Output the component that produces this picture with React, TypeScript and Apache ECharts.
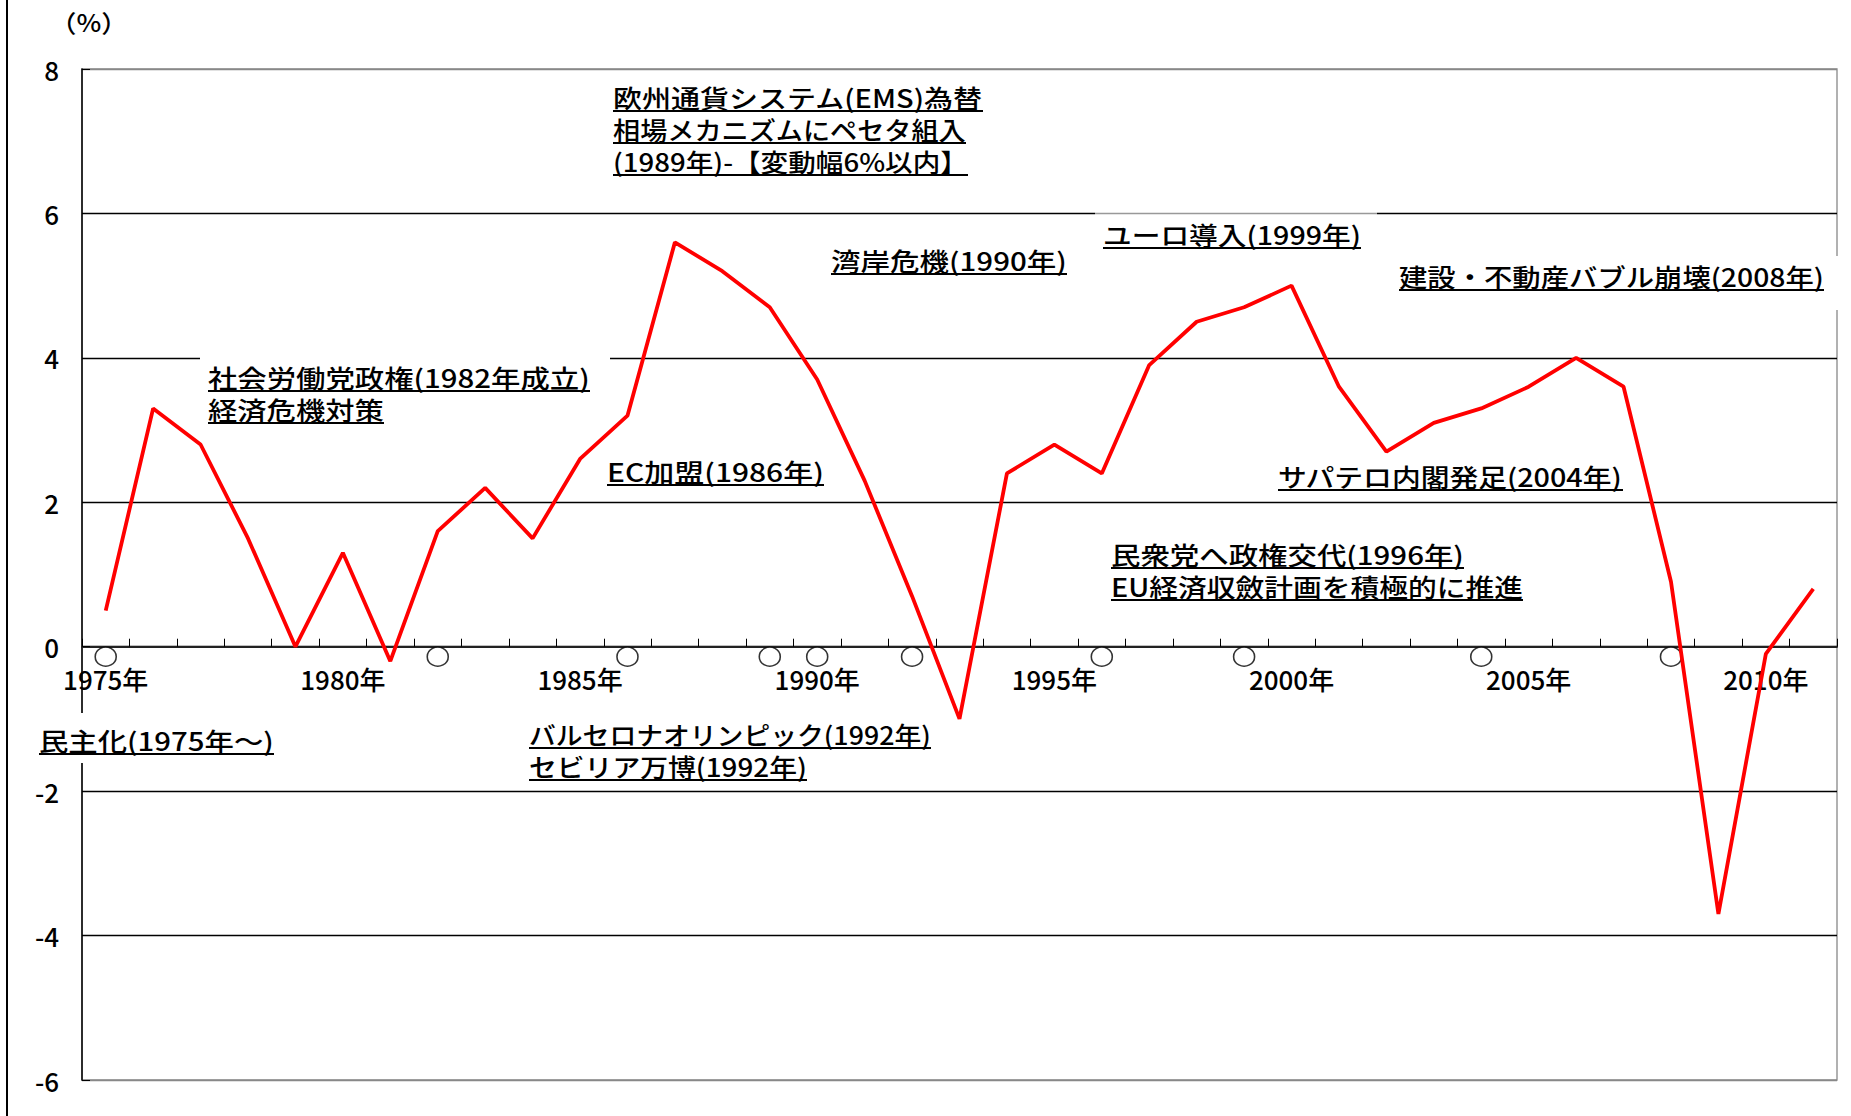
import React, { useEffect, useRef } from "react";
import * as echarts from "echarts";

// ---- data ----
const years = [
  "1975", "1976", "1977", "1978", "1979", "1980", "1981", "1982", "1983", "1984",
  "1985", "1986", "1987", "1988", "1989", "1990", "1991", "1992", "1993", "1994",
  "1995", "1996", "1997", "1998", "1999", "2000", "2001", "2002", "2003", "2004",
  "2005", "2006", "2007", "2008", "2009", "2010", "2011",
];
const gdpGrowth = [
  0.5, 3.3, 2.8, 1.5, 0.0, 1.3, -0.2, 1.6, 2.2, 1.5,
  2.6, 3.2, 5.6, 5.2, 4.7, 3.7, 2.3, 0.7, -1.0, 2.4,
  2.8, 2.4, 3.9, 4.5, 4.7, 5.0, 3.6, 2.7, 3.1, 3.3,
  3.6, 4.0, 3.6, 0.9, -3.7, -0.1, 0.8,
];
const eventYears = ["1975", "1982", "1986", "1989", "1990", "1992", "1996", "1999", "2004", "2008"];
const yearSuffix = "年";
const unitLabel = "（%）";
const annotationTexts = [
  ["欧州通貨システム(EMS)為替", "相場メカニズムにペセタ組入", "(1989年)-【変動幅6%以内】"],
  ["湾岸危機(1990年)"],
  ["ユーロ導入(1999年)"],
  ["建設・不動産バブル崩壊(2008年)"],
  ["社会労働党政権(1982年成立)", "経済危機対策"],
  ["EC加盟(1986年)"],
  ["サパテロ内閣発足(2004年)"],
  ["民衆党へ政権交代(1996年)", "EU経済収斂計画を積極的に推進"],
  ["民主化(1975年～)"],
  ["バルセロナオリンピック(1992年)", "セビリア万博(1992年)"],
];

// ---- layout (pixels) ----
const annotationLayout = [
  { x: 613, y: 97, right: [983, 966, 968] },
  { x: 831, y: 260, right: [1067] },
  { x: 1103, y: 234, right: [1361] },
  { x: 1399, y: 276, right: [1824] },
  { x: 208, y: 377, right: [590, 384] },
  { x: 607, y: 471, right: [824] },
  { x: 1278, y: 476, right: [1623] },
  { x: 1111, y: 554, right: [1464, 1523] },
  { x: 39, y: 740, right: [274] },
  { x: 529, y: 734, right: [931, 807] },
];
const maskBoxes = [
  { x: 200, y: 352, w: 410, h: 72, fill: "#ffffff" },
  { x: 1385, y: 256, w: 466, h: 54, fill: "#ffffff" },
  { x: 28, y: 713, w: 258, h: 50, fill: "#ffffff" },
  { x: 1095, y: 208, w: 282, h: 50, fill: "rgba(255,255,255,0.6)" },
];

const FONT_FAMILY = '"Noto Sans CJK JP", "Noto Sans", sans-serif';
const ANN_FS = 25;
const LINE_GAP = 32;
const GRID = { left: 82, right: 14, top: 69, bottom: 36 };
const CHART_H = 1116;
const Y_MIN = -6;
const Y_MAX = 8;

export default function App() {
  const ref = useRef<HTMLDivElement>(null);

  useEffect(() => {
    document.body.style.margin = "0";
    const chart = echarts.init(ref.current as HTMLDivElement, null, { renderer: "svg" });

    const canvas = document.createElement("canvas");
    const ctx = canvas.getContext("2d") as CanvasRenderingContext2D;
    const annFont = `500 ${ANN_FS}px ${FONT_FAMILY}`;
    ctx.font = annFont;

    const graphics: any[] = [];
    graphics.push({
      type: "line",
      shape: { x1: 7, y1: 0, x2: 7, y2: 1116 },
      style: { stroke: "#000", lineWidth: 2 },
      z: 1,
    });
    maskBoxes.forEach((b) => {
      graphics.push({
        type: "rect",
        shape: { x: b.x, y: b.y, width: b.w, height: b.h },
        style: { fill: b.fill },
        z: 5,
      });
    });
    annotationTexts.forEach((lines, i) => {
      const pos = annotationLayout[i];
      lines.forEach((t, j) => {
        const cy = pos.y + j * LINE_GAP;
        const measured = ctx.measureText(t).width || 1;
        const w = pos.right[j] - pos.x;
        const sx = w / measured;
        graphics.push({
          type: "text",
          x: pos.x,
          y: cy,
          scaleX: sx,
          style: {
            text: t,
            font: annFont,
            fill: "#000",
            textAlign: "left",
            textVerticalAlign: "middle",
          },
          z: 10,
        });
        graphics.push({
          type: "line",
          shape: { x1: pos.x, y1: cy + 14, x2: pos.x + w, y2: cy + 14 },
          style: { stroke: "#000", lineWidth: 2 },
          z: 10,
        });
      });
    });
    graphics.push({
      type: "text",
      x: 50,
      y: 22,
      scaleX: 1.1,
      style: {
        text: unitLabel,
        font: `500 24px ${FONT_FAMILY}`,
        fill: "#000",
        textAlign: "left",
        textVerticalAlign: "middle",
      },
      z: 10,
    });

    // place the category axis on the zero line
    const plotH = CHART_H - GRID.top - GRID.bottom;
    const zeroY = GRID.top + (Y_MAX / (Y_MAX - Y_MIN)) * plotH;
    const xOffset = zeroY - (CHART_H - GRID.bottom);

    chart.setOption({
      animation: false,
      backgroundColor: "#ffffff",
      grid: {
        ...GRID,
        show: true,
        borderColor: "#888888",
        borderWidth: 1.3,
        backgroundColor: "transparent",
      },
      xAxis: {
        type: "category",
        data: years,
        boundaryGap: true,
        position: "bottom",
        offset: xOffset,
        axisLine: { onZero: false, lineStyle: { color: "#222", width: 1.8 } },
        axisTick: { show: true, inside: true, length: 8, interval: 0, lineStyle: { color: "#000", width: 1 } },
        axisLabel: {
          interval: 4,
          formatter: (v: string) => v + yearSuffix,
          fontSize: 26,
          fontWeight: 500,
          fontFamily: FONT_FAMILY,
          color: "#000",
          margin: 19,
        },
        splitLine: { show: false },
      },
      yAxis: {
        type: "value",
        min: Y_MIN,
        max: Y_MAX,
        interval: 2,
        axisLine: { show: true, lineStyle: { color: "#000", width: 1.5 } },
        axisTick: { show: true, inside: true, length: 8, lineStyle: { color: "#000" } },
        axisLabel: { fontSize: 26, fontWeight: 500, color: "#000", fontFamily: FONT_FAMILY, margin: 23 },
        splitLine: {
          show: true,
          lineStyle: {
            color: ["#888", "#000", "#000", "#000", "#000", "#000", "#000", "#888"],
            width: 1.3,
          },
        },
      },
      series: [
        {
          type: "scatter",
          data: eventYears.map((y) => [y, 0]),
          symbol: "circle",
          symbolSize: [21, 19],
          symbolOffset: [0, 10],
          itemStyle: { color: "#ffffff", borderColor: "#000", borderWidth: 1.5 },
          z: 2,
          silent: true,
        },
        {
          type: "line",
          data: gdpGrowth,
          symbol: "none",
          showSymbol: false,
          lineStyle: { color: "#ff0000", width: 3.8 },
          itemStyle: { color: "#ff0000" },
          z: 3,
        },
      ],
      graphic: { elements: graphics },
    });

    return () => {
      chart.dispose();
    };
  }, []);

  return (
    <div
      ref={ref}
      style={{ position: "fixed", left: 0, top: 0, width: "1851px", height: "1116px" }}
    />
  );
}
